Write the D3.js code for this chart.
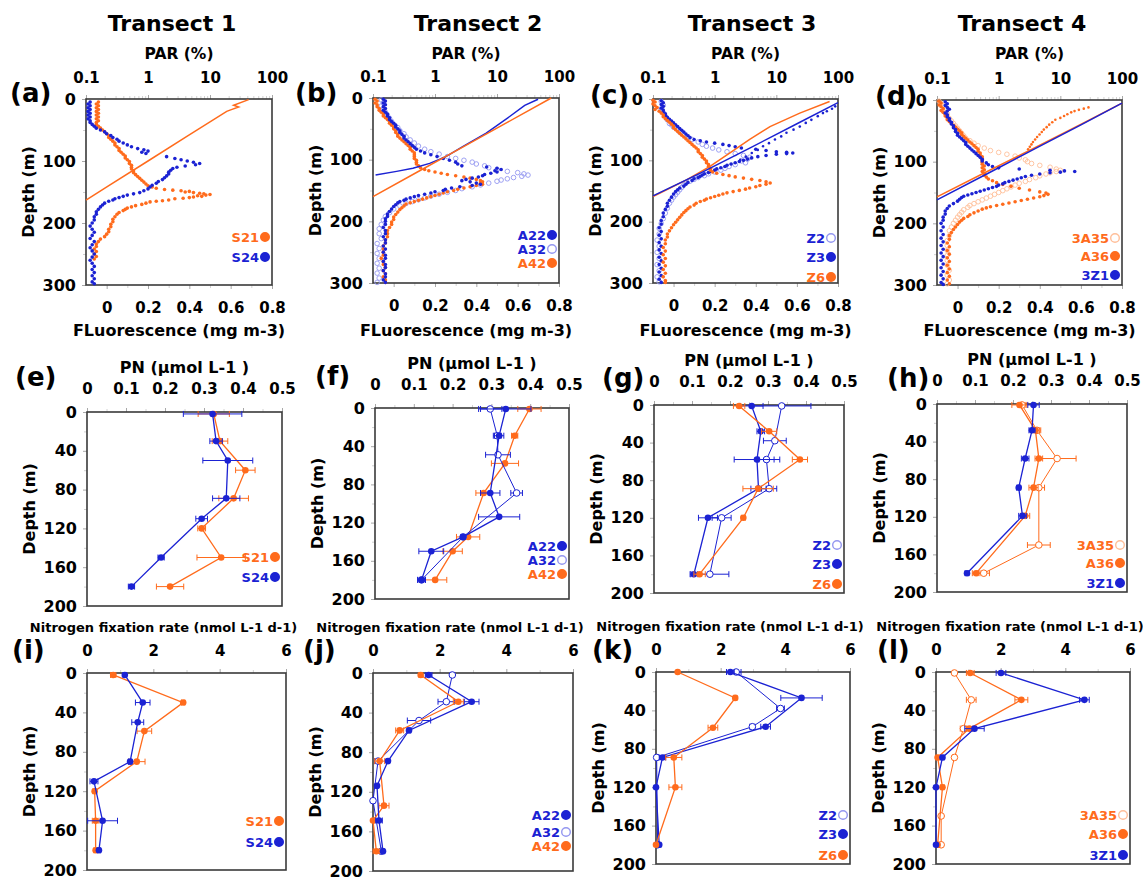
<!DOCTYPE html>
<html>
<head>
<meta charset="utf-8">
<script src="https://cdn.jsdelivr.net/npm/d3@7"></script>
<style>
  body { margin: 0; background: #fff; }
</style>
</head>
<body>
<svg id="fig" width="1143" height="878"></svg>
<script>
const FONT = "DejaVu Sans"
const BLUE = "#1b22d3", ORANGE = "#ff6b1c", BLUE_LT = "#9497f0", ORANGE_LT = "#ffbf9a"

// ---------- row 1: fluorescence profiles [depth m, mg m-3] ----------
const s21Fl = [[5,-0.04],[8,-0.05],[11,-0.04],[14,-0.05],[17,-0.04],[20,-0.05],[23,-0.04],[26,-0.05],[29,-0.04],[32,-0.05],[35,-0.04],[38,-0.05],[41,-0.05],[44,-0.04],[47,-0.03],[50,-0.02],[53,-0.01],[56,0.0],[59,0.01],[62,0.01],[65,0.02],[68,0.03],[71,0.04],[74,0.04],[77,0.05],[80,0.06],[83,0.06],[86,0.07],[89,0.08],[92,0.09],[95,0.09],[98,0.1],[101,0.11],[104,0.11],[107,0.12],[110,0.12],[113,0.12],[116,0.13],[119,0.13],[122,0.14],[125,0.15],[128,0.16],[131,0.17],[134,0.18],[137,0.19],[140,0.2],[142,0.22],[144,0.24],[146,0.28],[147,0.32],[148,0.36],[149,0.4],[150,0.38],[151,0.42],[152,0.45],[153,0.47],[154,0.5],[155,0.48],[156,0.44],[157,0.46],[158,0.42],[159,0.4],[160,0.37],[161,0.33],[163,0.3],[164,0.27],[165,0.24],[166,0.21],[168,0.19],[170,0.17],[172,0.14],[174,0.12],[176,0.1],[178,0.09],[180,0.08],[183,0.06],[186,0.05],[190,0.04],[194,0.03],[198,0.03],[202,0.02],[206,0.02],[210,0.01],[214,0.01],[218,0.0],[222,-0.01],[226,-0.03],[230,-0.04],[234,-0.05],[238,-0.05],[242,-0.06],[246,-0.05],[250,-0.06],[254,-0.05],[258,-0.06]]
const s24Fl = [[5,-0.08],[8,-0.09],[11,-0.08],[14,-0.09],[17,-0.08],[20,-0.09],[23,-0.08],[26,-0.09],[29,-0.08],[32,-0.09],[35,-0.08],[38,-0.08],[41,-0.07],[44,-0.06],[47,-0.05],[50,-0.03],[53,-0.01],[56,0.0],[59,0.02],[62,0.03],[65,0.05],[68,0.06],[71,0.08],[74,0.1],[77,0.12],[80,0.15],[82,0.18],[84,0.2],[86,0.17],[88,0.19],[93,0.29],[96,0.33],[98,0.36],[100,0.39],[102,0.42],[104,0.45],[106,0.43],[108,0.38],[110,0.34],[112,0.32],[115,0.31],[118,0.3],[121,0.3],[124,0.29],[127,0.28],[130,0.27],[133,0.25],[136,0.24],[139,0.22],[142,0.21],[145,0.2],[148,0.18],[151,0.16],[153,0.13],[155,0.1],[157,0.08],[159,0.06],[161,0.04],[163,0.03],[165,0.01],[168,-0.01],[171,-0.02],[174,-0.03],[178,-0.04],[182,-0.05],[186,-0.05],[190,-0.06],[195,-0.06],[200,-0.07],[205,-0.08],[210,-0.07],[215,-0.06],[220,-0.07],[225,-0.08],[230,-0.06],[235,-0.07],[240,-0.08],[245,-0.07],[250,-0.06],[255,-0.07],[260,-0.08],[265,-0.07],[270,-0.06],[275,-0.07],[280,-0.06],[285,-0.07],[290,-0.06],[295,-0.07],[298,-0.06]]
const a22Fl = [[2,-0.05],[5,-0.04],[8,-0.05],[11,-0.04],[14,-0.05],[17,-0.04],[20,-0.05],[23,-0.04],[26,-0.03],[29,-0.03],[32,-0.02],[35,-0.02],[38,-0.01],[41,0.0],[44,0.01],[47,0.01],[50,0.02],[53,0.03],[56,0.03],[59,0.04],[62,0.05],[65,0.05],[68,0.06],[71,0.07],[74,0.08],[77,0.09],[80,0.1],[83,0.11],[86,0.13],[89,0.15],[92,0.18],[95,0.21],[98,0.24],[101,0.27],[104,0.3],[107,0.31],[110,0.33],[112,0.45],[114,0.5],[116,0.52],[118,0.49],[120,0.5],[122,0.47],[124,0.44],[126,0.43],[128,0.41],[130,0.38],[132,0.35],[134,0.33],[136,0.37],[138,0.4],[140,0.42],[142,0.38],[144,0.32],[146,0.28],[148,0.25],[150,0.24],[152,0.2],[154,0.18],[156,0.15],[158,0.12],[160,0.1],[162,0.08],[164,0.06],[166,0.05],[168,0.03],[170,0.02],[173,0.01],[176,0.0],[180,-0.01],[184,-0.02],[188,-0.03],[192,-0.03],[196,-0.04],[200,-0.04],[205,-0.04],[210,-0.05],[215,-0.04],[220,-0.04],[225,-0.05],[230,-0.04],[235,-0.04],[240,-0.05],[245,-0.04],[250,-0.05],[255,-0.04],[260,-0.04],[265,-0.05],[270,-0.04],[275,-0.04],[280,-0.05],[285,-0.04],[290,-0.04],[295,-0.05],[299,-0.04]]
const a32Fl = [[3,-0.06],[8,-0.05],[13,-0.06],[18,-0.05],[23,-0.04],[28,-0.03],[33,-0.02],[38,-0.01],[43,0.0],[48,0.02],[53,0.03],[58,0.05],[63,0.06],[68,0.08],[73,0.1],[78,0.12],[83,0.15],[87,0.18],[91,0.22],[95,0.26],[98,0.3],[101,0.34],[104,0.38],[107,0.4],[110,0.44],[113,0.46],[116,0.5],[119,0.55],[121,0.6],[123,0.63],[125,0.65],[127,0.62],[129,0.58],[131,0.55],[133,0.52],[135,0.5],[138,0.46],[141,0.42],[144,0.38],[147,0.33],[150,0.3],[153,0.26],[156,0.22],[159,0.18],[162,0.15],[165,0.12],[168,0.09],[171,0.06],[175,0.03],[180,0.0],[186,-0.02],[192,-0.04],[198,-0.05],[205,-0.06],[212,-0.07],[220,-0.07],[228,-0.06],[236,-0.08],[244,-0.07],[252,-0.08],[260,-0.07],[268,-0.08],[276,-0.07],[284,-0.08],[292,-0.07],[299,-0.08]]
const a42Fl = [[2,-0.09],[5,-0.08],[8,-0.09],[11,-0.08],[14,-0.08],[17,-0.07],[20,-0.07],[23,-0.06],[26,-0.05],[29,-0.05],[32,-0.04],[35,-0.03],[38,-0.02],[41,-0.02],[44,-0.01],[47,0.0],[50,0.0],[53,0.01],[56,0.01],[59,0.02],[62,0.02],[65,0.03],[68,0.04],[71,0.05],[74,0.06],[77,0.07],[80,0.08],[83,0.08],[86,0.09],[89,0.1],[92,0.1],[95,0.1],[98,0.1],[101,0.11],[104,0.11],[107,0.11],[110,0.12],[113,0.13],[116,0.15],[118,0.17],[120,0.2],[122,0.23],[124,0.26],[126,0.3],[128,0.34],[130,0.37],[132,0.4],[134,0.42],[136,0.43],[138,0.42],[140,0.43],[142,0.4],[144,0.37],[146,0.34],[148,0.31],[150,0.29],[152,0.26],[154,0.24],[156,0.22],[158,0.2],[160,0.18],[162,0.16],[164,0.14],[166,0.12],[168,0.1],[170,0.08],[172,0.06],[175,0.05],[178,0.04],[181,0.03],[185,0.02],[189,0.01],[193,0.0],[197,0.0],[201,-0.01],[205,-0.01],[210,-0.02],[215,-0.03],[220,-0.03],[225,-0.03],[230,-0.04],[235,-0.04],[240,-0.05],[245,-0.05],[250,-0.05],[255,-0.05],[260,-0.06],[265,-0.05],[270,-0.05],[275,-0.04],[280,-0.05],[285,-0.04],[290,-0.05],[295,-0.04],[299,-0.04]]
const z2Fl = [[4,-0.06],[10,-0.05],[16,-0.06],[22,-0.05],[28,-0.04],[34,-0.03],[40,-0.02],[42,-0.01],[46,0.0],[50,0.02],[54,0.03],[58,0.05],[62,0.07],[66,0.09],[70,0.12],[74,0.14],[77,0.16],[80,0.19],[83,0.22],[86,0.26],[89,0.3],[92,0.34],[95,0.37],[98,0.36],[101,0.33],[104,0.35],[107,0.3],[110,0.27],[113,0.25],[116,0.23],[119,0.2],[122,0.17],[125,0.15],[128,0.12],[131,0.1],[134,0.08],[137,0.06],[140,0.05],[144,0.04],[148,0.03],[152,0.02],[156,0.01],[160,0.0],[165,-0.01],[170,-0.02],[178,-0.03],[186,-0.04],[195,-0.05],[203,-0.06],[211,-0.07],[220,-0.07],[230,-0.08],[240,-0.07],[250,-0.08],[260,-0.07],[270,-0.08],[280,-0.07],[290,-0.08],[298,-0.07]]
const z3Fl = [[3,-0.06],[6,-0.05],[9,-0.06],[12,-0.05],[15,-0.06],[18,-0.05],[21,-0.05],[24,-0.04],[27,-0.04],[30,-0.03],[33,-0.02],[36,-0.01],[39,0.0],[42,0.01],[45,0.02],[48,0.03],[51,0.04],[54,0.05],[57,0.06],[60,0.07],[63,0.08],[66,0.1],[68,0.13],[70,0.16],[72,0.2],[74,0.24],[76,0.27],[78,0.3],[80,0.33],[82,0.4],[84,0.45],[86,0.5],[87,0.55],[88,0.58],[89,0.55],[90,0.5],[92,0.45],[94,0.41],[96,0.38],[98,0.36],[100,0.34],[102,0.32],[104,0.3],[106,0.28],[108,0.26],[110,0.25],[112,0.23],[114,0.21],[116,0.2],[118,0.18],[120,0.17],[122,0.15],[124,0.14],[126,0.13],[128,0.12],[130,0.1],[133,0.09],[136,0.07],[139,0.06],[142,0.05],[145,0.03],[148,0.02],[151,0.01],[155,0.0],[160,-0.01],[165,-0.02],[170,-0.03],[175,-0.03],[180,-0.04],[186,-0.05],[192,-0.05],[198,-0.06],[204,-0.06],[210,-0.07],[216,-0.06],[222,-0.07],[228,-0.06],[234,-0.07],[240,-0.06],[246,-0.07],[252,-0.06],[258,-0.07],[264,-0.06],[270,-0.07],[276,-0.06],[282,-0.07],[288,-0.06],[294,-0.07],[299,-0.06]]
const z6Fl = [[2,-0.1],[5,-0.09],[8,-0.1],[11,-0.09],[14,-0.08],[17,-0.09],[20,-0.07],[23,-0.06],[26,-0.05],[29,-0.05],[32,-0.04],[35,-0.03],[38,-0.02],[41,-0.01],[44,0.0],[47,0.0],[50,0.01],[53,0.02],[56,0.03],[59,0.04],[62,0.05],[65,0.06],[68,0.07],[71,0.08],[74,0.09],[77,0.1],[80,0.11],[83,0.12],[86,0.12],[89,0.13],[92,0.14],[95,0.14],[98,0.15],[101,0.16],[104,0.16],[107,0.17],[110,0.17],[113,0.18],[116,0.18],[119,0.19],[121,0.21],[123,0.24],[125,0.27],[127,0.3],[129,0.34],[131,0.38],[133,0.42],[135,0.45],[137,0.47],[139,0.45],[141,0.42],[143,0.4],[145,0.37],[147,0.35],[149,0.32],[151,0.29],[153,0.26],[155,0.24],[157,0.22],[159,0.2],[161,0.18],[163,0.16],[165,0.15],[167,0.13],[170,0.11],[173,0.1],[176,0.08],[179,0.07],[182,0.06],[185,0.05],[189,0.04],[193,0.03],[197,0.02],[201,0.01],[205,0.0],[210,-0.01],[215,-0.02],[220,-0.03],[225,-0.03],[230,-0.04],[236,-0.04],[242,-0.05],[248,-0.04],[254,-0.05],[260,-0.04],[266,-0.05],[272,-0.04],[278,-0.05],[284,-0.04],[290,-0.05],[296,-0.04],[299,-0.04]]
const a35Fl = [[2,-0.09],[6,-0.08],[10,-0.07],[14,-0.06],[18,-0.07],[22,-0.05],[26,-0.05],[30,-0.04],[34,-0.03],[38,-0.02],[42,-0.01],[46,0.0],[50,0.01],[54,0.02],[58,0.03],[62,0.04],[66,0.06],[70,0.08],[74,0.1],[78,0.13],[82,0.16],[85,0.2],[88,0.24],[91,0.28],[94,0.3],[97,0.33],[100,0.34],[103,0.36],[106,0.4],[109,0.45],[112,0.48],[114,0.5],[116,0.48],[118,0.45],[120,0.43],[123,0.4],[126,0.38],[129,0.35],[132,0.33],[135,0.3],[138,0.28],[141,0.26],[144,0.24],[147,0.22],[150,0.2],[153,0.18],[156,0.16],[159,0.14],[162,0.12],[165,0.1],[168,0.08],[171,0.06],[174,0.05],[178,0.03],[182,0.02],[186,0.01],[190,0.0],[195,-0.01],[200,-0.02],[206,-0.03],[212,-0.04],[220,-0.04],[228,-0.05],[236,-0.05],[244,-0.05],[252,-0.05],[260,-0.05],[268,-0.05],[276,-0.04],[284,-0.05],[292,-0.04],[298,-0.05]]
const a36Fl = [[2,-0.09],[5,-0.08],[8,-0.09],[11,-0.08],[14,-0.07],[17,-0.08],[20,-0.07],[23,-0.06],[26,-0.06],[29,-0.05],[32,-0.05],[35,-0.04],[38,-0.03],[41,-0.02],[44,-0.01],[47,0.0],[50,0.01],[53,0.02],[56,0.02],[59,0.03],[62,0.04],[65,0.05],[68,0.06],[71,0.07],[74,0.08],[77,0.09],[80,0.1],[83,0.1],[86,0.11],[89,0.11],[92,0.12],[95,0.12],[98,0.12],[101,0.12],[104,0.12],[107,0.13],[110,0.12],[113,0.13],[116,0.12],[119,0.13],[122,0.13],[125,0.14],[128,0.15],[131,0.17],[134,0.19],[137,0.22],[140,0.26],[143,0.3],[146,0.35],[149,0.4],[151,0.43],[153,0.44],[155,0.42],[157,0.4],[159,0.37],[161,0.34],[163,0.31],[165,0.28],[167,0.25],[169,0.22],[171,0.19],[173,0.16],[175,0.14],[177,0.12],[180,0.1],[183,0.08],[186,0.06],[189,0.05],[192,0.03],[195,0.02],[198,0.01],[202,0.0],[206,-0.01],[210,-0.02],[215,-0.03],[220,-0.04],[226,-0.04],[232,-0.05],[238,-0.04],[244,-0.05],[250,-0.04],[256,-0.05],[262,-0.04],[268,-0.05],[274,-0.04],[280,-0.05],[286,-0.04],[292,-0.05],[298,-0.04]]
const z1Fl = [[3,-0.06],[6,-0.05],[9,-0.06],[12,-0.05],[15,-0.04],[18,-0.05],[21,-0.06],[24,-0.05],[27,-0.05],[30,-0.04],[33,-0.04],[36,-0.03],[39,-0.03],[42,-0.02],[45,-0.02],[48,-0.01],[51,-0.01],[54,0.0],[57,0.0],[60,0.01],[63,0.02],[66,0.03],[69,0.04],[72,0.04],[75,0.05],[78,0.06],[81,0.07],[84,0.08],[87,0.09],[90,0.1],[93,0.11],[96,0.12],[99,0.12],[102,0.14],[105,0.15],[108,0.17],[110,0.2],[112,0.3],[114,0.45],[115,0.52],[116,0.57],[117,0.5],[118,0.45],[120,0.4],[122,0.36],[124,0.33],[126,0.31],[128,0.29],[130,0.27],[132,0.25],[134,0.23],[136,0.22],[138,0.2],[140,0.19],[142,0.17],[144,0.15],[146,0.13],[148,0.11],[150,0.09],[152,0.07],[154,0.05],[156,0.03],[158,0.02],[161,0.01],[164,0.0],[168,-0.02],[172,-0.04],[176,-0.05],[180,-0.06],[185,-0.06],[190,-0.07],[195,-0.07],[200,-0.08],[206,-0.07],[212,-0.08],[218,-0.07],[224,-0.08],[230,-0.07],[236,-0.08],[242,-0.07],[248,-0.08],[254,-0.07],[260,-0.08],[266,-0.07],[272,-0.08],[278,-0.07],[284,-0.08],[290,-0.07],[296,-0.08],[299,-0.07]]

// ---------- row 1: PAR profiles [depth m, PAR %] ----------
const parS21 = [[1,42],[10,24],[13,29],[18,21],[20,18.6],[60,4.3],[100,1.0],[140,0.23],[163,0.1]]
const parA22 = [[2,46],[12,28],[30,16],[57,6.7],[79,2.8],[95,1.5],[106,0.82],[114,0.44],[119,0.24],[125,0.11]]
const parA42 = [[0,75],[40,14.4],[80,2.75],[120,0.52],[160,0.1]]
const parZ2 = [[12,90],[16,80],[20,66],[23,57],[28,47],[34,37],[39,30],[45,24],[50,19],[55,14.6],[61,12],[66,9.5],[72,7.6],[77,6.1],[83,5.0],[88,4.0],[94,3.2],[99,2.6]]
const parZ3 = [[6,100],[40,22],[80,3.7],[120,0.61],[158,0.1]]
const parZ6 = [[4,73],[23,24],[45,7.9],[66,3.7],[88,1.77],[110,0.84],[132,0.35],[159,0.1]]
const parA35 = [[12,28.6],[14,24],[16,20],[18,17],[20,15],[23,13],[26,11.5],[29,10],[32,8.3],[36,7.4],[40,6.6],[44,6.0],[48,5.4],[52,5.0],[56,4.6],[60,4.2],[64,3.9],[68,3.6],[72,3.4],[76,3.2],[80,3.0]]
const parA36 = [[5,100],[40,21],[80,3.4],[120,0.54],[157,0.1]]
const parZ1 = [[5,100],[40,22],[80,3.7],[120,0.64],[162,0.1]]

// ---------- row 2: PN [depth m, umol L-1, error] ----------
const pnS21 = [[2,0.325,0.04],[30,0.341,0.02],[60,0.406,0.025],[89,0.376,0.038],[120,0.294,0.01],[150,0.344,0.062],[180,0.213,0.035]]
const pnS24 = [[2,0.322,0.075],[30,0.331,0.016],[50,0.361,0.064],[89,0.357,0.035],[110,0.294,0.015],[150,0.19,0.008],[180,0.114,0.008]]
const pnA22 = [[1,0.337,0.065],[29,0.32,0.012],[89,0.297,0.025],[114,0.32,0.053],[135,0.227,0.005],[150,0.145,0.032],[180,0.12,0.01]]
const pnA32 = [[1,0.297,0.03],[29,0.315,0.01],[49,0.317,0.032],[89,0.365,0.015],[135,0.227,0.005],[180,0.12,0.01]]
const pnA42 = [[1,0.398,0.03],[29,0.36,0.008],[58,0.335,0.035],[89,0.28,0.02],[135,0.24,0.03],[150,0.2,0.025],[180,0.155,0.03]]
const pnZ2 = [[1,0.336,0.077],[38,0.318,0.03],[58,0.296,0.02],[89,0.303,0.02],[120,0.178,0.025],[180,0.147,0.05]]
const pnZ3 = [[1,0.257,0.03],[28,0.281,0.01],[58,0.271,0.06],[89,0.275,0.02],[120,0.142,0.025],[180,0.105,0.01]]
const pnZ6 = [[1,0.224,0.015],[28,0.303,0.02],[58,0.384,0.02],[89,0.274,0.04],[120,0.235,0.005],[180,0.12,0.015]]
const pnA35 = [[1,0.224,0.01],[28,0.263,0.01],[58,0.316,0.05],[89,0.268,0.015],[150,0.268,0.03],[180,0.123,0.015]]
const pnA36 = [[1,0.217,0.02],[28,0.259,0.01],[58,0.268,0.01],[89,0.254,0.012],[119,0.232,0.012],[180,0.103,0.01]]
const pnZ1 = [[1,0.254,0.015],[28,0.25,0.008],[58,0.232,0.01],[89,0.215,0.005],[119,0.225,0.01],[180,0.079,0.005]]

// ---------- row 3: N2 fixation [depth m, nmol L-1 d-1, error] ----------
const nfS21 = [[2,0.79,0.08],[30,2.9,0.05],[59,1.73,0.22],[90,1.5,0.25],[120,0.23,0.05],[150,0.26,0.1],[180,0.26,0.05]]
const nfS24 = [[2,1.14,0.05],[30,1.68,0.22],[50,1.53,0.18],[90,1.3,0.05],[110,0.21,0.12],[150,0.47,0.45],[180,0.36,0.05]]
const nfA22 = [[2,1.67,0.1],[29,2.96,0.22],[58,1.08,0.05],[89,0.45,0.05],[114,0.12,0.05],[149,0.18,0.1],[180,0.3,0.05]]
const nfA32 = [[2,2.38,0.05],[29,2.2,0.25],[48,1.38,0.35],[89,0.15,0.1],[129,0.0,0.05],[180,0.25,0.05]]
const nfA42 = [[2,1.43,0.05],[29,2.56,0.15],[58,0.8,0.12],[89,0.2,0.15],[134,0.33,0.15],[149,0.0,0.05],[180,0.1,0.1]]
const nfZ2 = [[0,2.48,0.15],[38,3.85,0.12],[57,2.98,0.08],[89,0.02,0.05],[180,0.05,0.03]]
const nfZ3 = [[0,2.3,0.12],[27,4.5,0.64],[57,3.39,0.15],[89,0.2,0.1],[120,0.0,0.03],[180,0.1,0.05]]
const nfZ6 = [[0,0.67,0.03],[27,2.45,0.05],[58,1.76,0.15],[89,0.55,0.25],[120,0.6,0.2],[180,0.0,0.05]]
const nfA35 = [[1,0.57,0.05],[29,1.09,0.15],[59,0.85,0.1],[89,0.57,0.05],[150,0.16,0.03],[180,0.16,0.03]]
const nfA36 = [[1,1.06,0.12],[29,2.64,0.2],[59,1.03,0.1],[89,0.05,0.05],[120,0.2,0.05],[180,0.05,0.03]]
const nfZ1 = [[1,2.01,0.15],[29,4.59,0.15],[59,1.19,0.3],[89,0.2,0.05],[120,0.0,0.03],[180,0.0,0.03]]

// ---------- ticks / labels ----------
const transects = ["Transect 1", "Transect 2", "Transect 3", "Transect 4"]
const parTicks = [0.1, 1, 10, 100]
const flTicks = [0, 0.2, 0.4, 0.6, 0.8]
const pnTicks = [0, 0.1, 0.2, 0.3, 0.4, 0.5]
const nfTicks = [0, 2, 4, 6]
const depth300Ticks = [0, 100, 200, 300]
const depth200Ticks = [0, 40, 80, 120, 160, 200]

const station = {
  "S21": {c: ORANGE}, "S24": {c: BLUE},
  "A22": {c: BLUE}, "A32": {c: BLUE, open: true}, "A42": {c: ORANGE},
  "Z2": {c: BLUE, open: true}, "Z3": {c: BLUE}, "Z6": {c: ORANGE},
  "3A35": {c: ORANGE, open: true}, "A36": {c: ORANGE}, "3Z1": {c: BLUE}
}

// ---------- layout ----------
const row1 = [
  {box: [86, 272, 99, 285], letter: "(a)", lp: [10, 93], tx: 172,
   fluor: [["S21", s21Fl], ["S24", s24Fl]], par: [["line", parS21, ORANGE]],
   legend: [["S21", 237], ["S24", 257]]},
  {box: [373, 559, 98, 283], letter: "(b)", lp: [295, 93], tx: 478,
   fluor: [["A32", a32Fl], ["A42", a42Fl], ["A22", a22Fl]], par: [["line", parA22, BLUE], ["line", parA42, ORANGE]],
   legend: [["A22", 235], ["A32", 249], ["A42", 263]]},
  {box: [653, 838, 99, 283], letter: "(c)", lp: [590, 95], tx: 752,
   fluor: [["Z2", z2Fl], ["Z3", z3Fl], ["Z6", z6Fl]], par: [["dots", parZ2, BLUE], ["line", parZ6, ORANGE], ["line", parZ3, BLUE]],
   legend: [["Z2", 238], ["Z3", 257], ["Z6", 277]]},
  {box: [937, 1122, 100, 285], letter: "(d)", lp: [875, 96], tx: 1022,
   fluor: [["3A35", a35Fl], ["A36", a36Fl], ["3Z1", z1Fl]], par: [["dots", parA35, ORANGE], ["line", parA36, ORANGE], ["line", parZ1, BLUE]],
   legend: [["3A35", 238], ["A36", 256], ["3Z1", 275]]}
]
const row2 = [
  {box: [87, 282, 412, 606], letter: "(e)", lp: [15, 377], series: [["S21", pnS21], ["S24", pnS24]], legend: [["S21", 557], ["S24", 577]]},
  {box: [375, 569, 408, 599], letter: "(f)", lp: [315, 376], series: [["A42", pnA42], ["A32", pnA32], ["A22", pnA22]], legend: [["A22", 546], ["A32", 560], ["A42", 574]]},
  {box: [654, 844, 405, 593], letter: "(g)", lp: [602, 378], series: [["Z2", pnZ2], ["Z3", pnZ3], ["Z6", pnZ6]], legend: [["Z2", 545], ["Z3", 564], ["Z6", 584]]},
  {box: [937, 1127, 404, 592], letter: "(h)", lp: [887, 378], series: [["3A35", pnA35], ["A36", pnA36], ["3Z1", pnZ1]], legend: [["3A35", 545], ["A36", 563], ["3Z1", 583]]}
]
const row3 = [
  {box: [87, 286, 673, 870], letter: "(i)", lp: [12, 650], series: [["S21", nfS21], ["S24", nfS24]], legend: [["S21", 821], ["S24", 842]]},
  {box: [373, 573, 673, 871], letter: "(j)", lp: [303, 650], series: [["A32", nfA32], ["A42", nfA42], ["A22", nfA22]], legend: [["A22", 815], ["A32", 832], ["A42", 846]]},
  {box: [656, 850, 672, 864], letter: "(k)", lp: [592, 650], series: [["Z2", nfZ2], ["Z3", nfZ3], ["Z6", nfZ6]], legend: [["Z2", 815], ["Z3", 834], ["Z6", 855]]},
  {box: [936, 1130, 672, 864], letter: "(l)", lp: [877, 650], series: [["3A35", nfA35], ["A36", nfA36], ["3Z1", nfZ1]], legend: [["3A35", 815], ["A36", 834], ["3Z1", 855]]}
]

const svg = d3.select("#fig")

function txt(x, y, s, size, anchor = "middle", fill = "#000") {
  return svg.append("text").attr("x", x).attr("y", y).text(s)
    .attr("font-family", FONT).attr("font-weight", "bold")
    .attr("font-size", size).attr("text-anchor", anchor).attr("fill", fill)
}

function styleAxis(sel, size) {
  sel.select(".domain").remove()
  sel.selectAll(".tick line").attr("stroke", "#a8a8a8")
  sel.selectAll(".tick text").attr("font-family", FONT).attr("font-weight", "bold")
    .attr("font-size", size).attr("fill", "#000")
}

function axis(gen, tx, ty, size) {
  return svg.append("g").attr("transform", `translate(${tx},${ty})`).call(gen).call(s => styleAxis(s, size))
}

function minors(ticks) {
  const out = []
  for (let i = 0; i < ticks.length - 1; i++) out.push((ticks[i] + ticks[i + 1]) / 2)
  return out
}

function frame(p, yTicks, y) {
  const [x0, x1, y0, y1] = p.box
  axis(d3.axisLeft(y).tickValues(minors(yTicks)).tickSize(3).tickFormat(""), x0, 0, 15)
    .selectAll("line").attr("stroke", "#cfcfcf")
  axis(d3.axisLeft(y).tickValues(yTicks).tickSize(4).tickPadding(6).tickFormat(d3.format("d")), x0, 0, 16)
  svg.append("rect").attr("x", x0).attr("y", y0).attr("width", x1 - x0).attr("height", y1 - y0)
    .attr("fill", "none").attr("stroke", "#3a3a3a").attr("stroke-width", 1.6)
  txt(0, 0, "Depth (m)", 16).attr("transform", `translate(${x0 - 58},${(y0 + y1) / 2}) rotate(-90)`)
    .attr("dy", "0.35em")
  txt(p.lp[0], p.lp[1] + 9, p.letter, 26, "start")
}

function legend(p) {
  const cx = p.box[1] - 7
  p.legend.forEach(([name, yy]) => {
    const st = station[name]
    txt(cx - 6, yy, name, 13, "end", st.c).attr("dy", "0.36em")
    svg.append("circle").attr("cx", cx).attr("cy", yy).attr("r", 4.3)
      .attr("fill", st.open ? "#fff" : st.c)
      .attr("stroke", st.open ? (st.c === BLUE ? BLUE_LT : ORANGE_LT) : st.c).attr("stroke-width", 1.4)
  })
}

// ---------- row 1 ----------
row1.forEach((p, i) => {
  const [x0, x1, y0, y1] = p.box
  const y = d3.scaleLinear().domain([0, 300]).range([y0, y1])
  const xPar = d3.scaleLog().domain([0.1, 100]).range([x0, x1])
  const xFl = d3.scaleLinear().domain([-0.1, 0.8]).range([x0, x1])

  txt((x0 + x1) / 2 + (p.tx - (x0 + x1) / 2), 31, transects[i], 22)
  txt((x0 + x1) / 2, 59, "PAR (%)", 15.5)
  txt((x0 + x1) / 2, 336, "FLuorescence (mg m-3)", 16)

  const parMinor = []
  ;[0.1, 1, 10].forEach(b => { for (let k = 2; k <= 9; k++) parMinor.push(b * k) })
  axis(d3.axisTop(xPar).tickValues(parMinor).tickSize(3).tickFormat(""), 0, y0, 15)
    .selectAll("line").attr("stroke", "#d2d2d2")
  axis(d3.axisTop(xPar).tickValues(parTicks).tickSize(4).tickPadding(12.5).tickFormat(d => d === 0.1 ? "0.1" : d3.format("d")(d)), 0, y0, 15)
  axis(d3.axisBottom(xFl).tickValues(minors(flTicks)).tickSize(3).tickFormat(""), 0, y1, 15)
    .selectAll("line").attr("stroke", "#d2d2d2")
  axis(d3.axisBottom(xFl).tickValues(flTicks).tickSize(4).tickPadding(13).tickFormat(d => d === 0 ? "0" : d3.format(".1f")(d)), 0, y1, 15)

  frame(p, depth300Ticks, y)

  const g = svg.append("g")
  p.fluor.forEach(([name, data]) => {
    const st = station[name]
    const light = st.c === BLUE ? BLUE_LT : ORANGE_LT
    g.selectAll(null).data(data).enter().append("circle")
      .attr("cx", d => xFl(d[1])).attr("cy", d => y(d[0]))
      .attr("r", st.open ? 2.3 : 1.8)
      .attr("fill", st.open ? "none" : st.c)
      .attr("stroke", st.open ? light : "none").attr("stroke-width", 0.9)
  })
  p.par.forEach(([kind, data, c]) => {
    if (kind === "line") {
      g.append("path").datum(data)
        .attr("d", d3.line().x(d => xPar(d[1])).y(d => y(d[0])))
        .attr("fill", "none").attr("stroke", c).attr("stroke-width", 1.5)
    } else {
      g.selectAll(null).data(data).enter().append("circle")
        .attr("cx", d => xPar(d[1])).attr("cy", d => y(d[0])).attr("r", 1.3).attr("fill", c)
    }
  })
  legend(p)
})

// ---------- rows 2 and 3 ----------
function profileRow(rows, opt) {
  rows.forEach(p => {
    const [x0, x1, y0, y1] = p.box
    const y = d3.scaleLinear().domain([0, 200]).range([y0, y1])
    const x = d3.scaleLinear().domain(opt.domain).range([x0, x1])

    txt((x0 + x1) / 2 + opt.titleShift, y0 + opt.titleDy, opt.title, opt.titleSize)
    axis(d3.axisTop(x).tickValues(minors(opt.ticks)).tickSize(3).tickFormat(""), 0, y0, 15)
      .selectAll("line").attr("stroke", "#d2d2d2")
    axis(d3.axisTop(x).tickValues(opt.ticks).tickSize(4).tickPadding(opt.pad).tickFormat(opt.fmt), 0, y0, 15)
    frame(p, depth200Ticks, y)

    const g = svg.append("g")
    p.series.forEach(([name, data]) => {
      const st = station[name]
      g.append("path").datum(data)
        .attr("d", d3.line().x(d => x(d[1])).y(d => y(d[0])))
        .attr("fill", "none").attr("stroke", st.c).attr("stroke-width", st.open ? 1 : 1.3)
      const eb = g.selectAll(null).data(data).enter().append("g").attr("stroke", st.c).attr("stroke-width", 1)
      eb.append("line").attr("x1", d => x(Math.max(opt.domain[0], d[1] - d[2]))).attr("x2", d => x(d[1] + d[2]))
        .attr("y1", d => y(d[0])).attr("y2", d => y(d[0]))
      eb.append("line").attr("x1", d => x(d[1] - d[2])).attr("x2", d => x(d[1] - d[2]))
        .attr("y1", d => y(d[0]) - 3).attr("y2", d => y(d[0]) + 3)
        .attr("display", d => d[1] - d[2] < opt.domain[0] ? "none" : null)
      eb.append("line").attr("x1", d => x(d[1] + d[2])).attr("x2", d => x(d[1] + d[2]))
        .attr("y1", d => y(d[0]) - 3).attr("y2", d => y(d[0]) + 3)
      g.selectAll(null).data(data).enter().append("circle")
        .attr("cx", d => x(d[1])).attr("cy", d => y(d[0])).attr("r", 3.3)
        .attr("fill", st.open ? "#fff" : st.c)
        .attr("stroke", st.c).attr("stroke-width", st.open ? 1 : 0)
    })
    legend(p)
  })
}

profileRow(row2, {domain: [0, 0.5], ticks: pnTicks, title: "PN (µmol L-1 )", titleSize: 16,
  titleDy: -39, titleShift: 0, pad: 14.5, fmt: d => d === 0 ? "0" : d3.format(".1f")(d)})
profileRow(row3, {domain: [0, 6], ticks: nfTicks, title: "Nitrogen fixation rate (nmol L-1 d-1)", titleSize: 13,
  titleDy: -41, titleShift: -23, pad: 13.5, fmt: d3.format("d")})
</script>
</body>
</html>
